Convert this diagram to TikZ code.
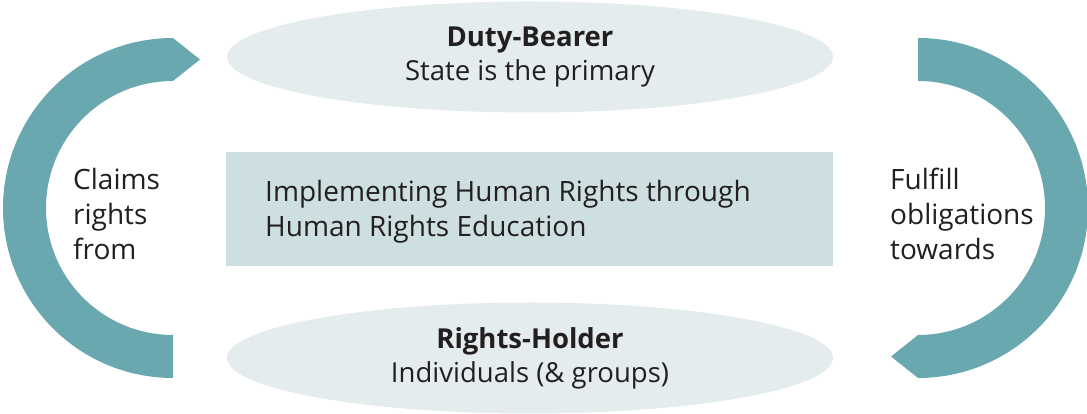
\documentclass[tikz,border=0pt]{standalone}
\usepackage{fontspec}
\setmainfont{Open Sans}
\usetikzlibrary{shapes.geometric}
\definecolor{teal1}{HTML}{6AA8B0}
\definecolor{ellfill}{HTML}{E4ECEE}
\definecolor{boxfill}{HTML}{CEDFE2}
\definecolor{txt}{HTML}{231F20}
\tikzset{
  ell/.style={ellipse, fill=ellfill, minimum width=606pt, minimum height=111pt, inner sep=0pt, align=center, text=txt, font=\fontsize{27.5}{34}\selectfont},
  midbox/.style={rectangle, fill=boxfill, minimum width=607pt, minimum height=114pt, inner sep=0pt},
  lbl/.style={anchor=west, align=left, text=txt, inner sep=0pt, font=\fontsize{28}{35}\selectfont},
  band/.style={fill=teal1}
}
\begin{document}
\begin{tikzpicture}[x=1pt,y=1pt]
\useasboundingbox (0,0) rectangle (1087,414);
% arcs
\path[band] (173,376) arc[start angle=90, end angle=270, radius=170] -- (173,79)
  arc[start angle=270, end angle=90, radius=127] -- (200,354.5) -- cycle;
\path[band] (918,376) arc[start angle=90, end angle=-90, radius=170] -- (891,57.5) -- (918,79)
  arc[start angle=-90, end angle=90, radius=127] -- cycle;
% nodes
\node[ell] (duty) at (530,357) {\textbf{Duty-Bearer}\\State is the primary};
\node[ell] (holder) at (530,56) {\textbf{Rights-Holder}\\Individuals (\& groups)};
\node[midbox] (box) at (529,205) {};
\node[lbl, font=\fontsize{28}{35}\selectfont] (boxtxt) at (265,202) {Implementing Human Rights through\\Human Rights Education};
\node[lbl] (claims) at (73,200) {Claims\\rights\\from};
\node[lbl] (fulfill) at (890,200) {Fulfill\\obligations\\towards};
\end{tikzpicture}
\end{document}
